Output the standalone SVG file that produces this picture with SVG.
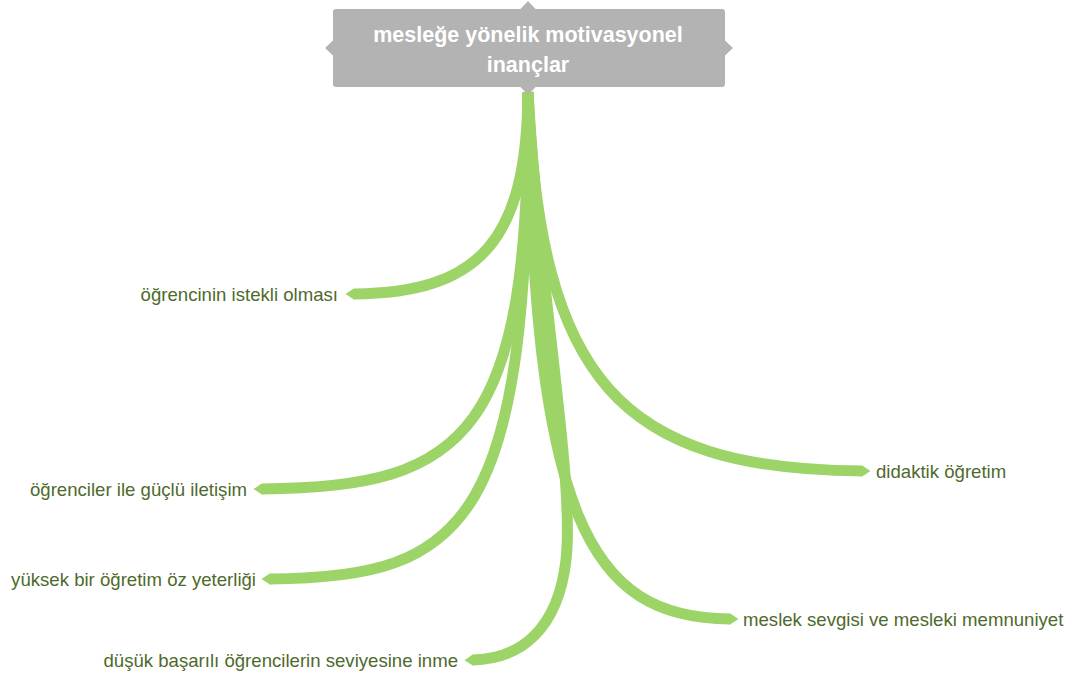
<svg xmlns="http://www.w3.org/2000/svg" width="1072" height="676" viewBox="0 0 1072 676">
  <style>
    .branch { fill: none; stroke: #9dd468; stroke-width: 11; stroke-linecap: butt; marker-end: url(#tip); }
    .label { font-family: "Liberation Sans", Arial, sans-serif; font-size: 18.6px; fill: #4e6a2c; }
    .title { font-family: "Liberation Sans", Arial, sans-serif; font-size: 21.5px; font-weight: bold; fill: #ffffff; text-anchor: middle; }
    .box { fill: #b3b3b3; }
  </style>
  <defs>
    <marker id="tip" viewBox="0 0 9 12" refX="0.5" refY="6" markerWidth="9" markerHeight="12" markerUnits="userSpaceOnUse" orient="auto">
      <path d="M0,0 L9,6 L0,12 z" fill="#9dd468"/>
    </marker>
  </defs>

  <rect width="1072" height="676" fill="#ffffff"/>

  <g id="connectors">
    <path class="branch" d="M528,92 C527,240 480,293 354,294"/>
    <path class="branch" d="M528,92 C530,430 470,488 262,489"/>
    <path class="branch" d="M528,92 C530,520 470,578 270,579"/>
    <path class="branch" d="M528,92 C540,300 575,480 566,560 C558,630 520,659 473,660"/>
    <path class="branch" d="M528,92 C533,520 590,618 730,619"/>
    <path class="branch" d="M528,92 C540,380 620,469 862,471"/>
  </g>

  <g id="root">
    <rect class="box" x="333" y="9" width="392" height="78" rx="3"/>
    <polygon class="box" points="520,9.5 528,1 536,9.5"/>
    <polygon class="box" points="520,86.5 528,95 536,86.5"/>
    <polygon class="box" points="333.5,40 325,48 333.5,56"/>
    <polygon class="box" points="724.5,40 733,48 724.5,56"/>
    <text class="title" x="528" y="42">mesleğe yönelik motivasyonel</text>
    <text class="title" x="528" y="72">inançlar</text>
  </g>

  <g id="n-istekli">
    <text class="label" x="338" y="301" text-anchor="end">öğrencinin istekli olması</text>
  </g>
  <g id="n-iletisim">
    <text class="label" x="247" y="496" text-anchor="end">öğrenciler ile güçlü iletişim</text>
  </g>
  <g id="n-yeterlik">
    <text class="label" x="256" y="586" text-anchor="end">yüksek bir öğretim öz yeterliği</text>
  </g>
  <g id="n-seviye">
    <text class="label" x="458" y="667" text-anchor="end">düşük başarılı öğrencilerin seviyesine inme</text>
  </g>
  <g id="n-sevgi">
    <text class="label" x="743" y="626">meslek sevgisi ve mesleki memnuniyet</text>
  </g>
  <g id="n-didaktik">
    <text class="label" x="876" y="478">didaktik öğretim</text>
  </g>
</svg>
